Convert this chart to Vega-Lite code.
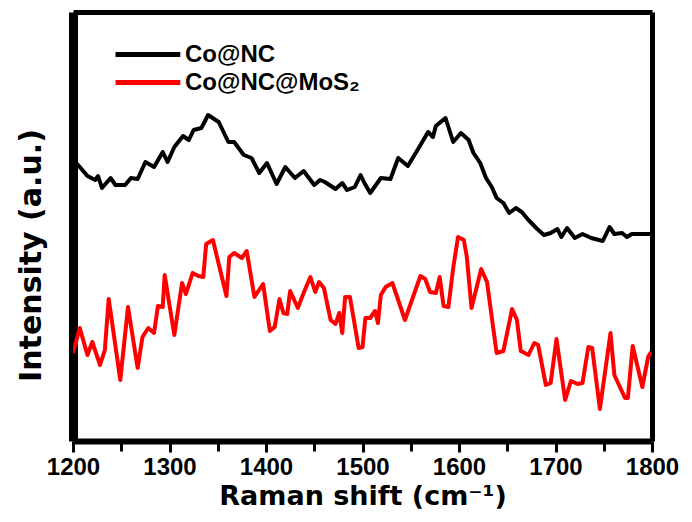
{
  "$schema": "https://vega.github.io/schema/vega-lite/v6.json",
  "width": 579,
  "height": 429,
  "autosize": {"type": "none"},
  "padding": {"left": 73, "top": 12, "right": 40, "bottom": 81},
  "background": "white",
  "config": {"view": {"stroke": null}},
  "data": {
    "values": [
      {"series":"Co@NC","shift":1200,"intensity":290},{"series":"Co@NC","shift":1207,"intensity":283},{"series":"Co@NC","shift":1215,"intensity":274},{"series":"Co@NC","shift":1223,"intensity":270},{"series":"Co@NC","shift":1226,"intensity":274},{"series":"Co@NC","shift":1230,"intensity":262},{"series":"Co@NC","shift":1239,"intensity":272},{"series":"Co@NC","shift":1244,"intensity":265},{"series":"Co@NC","shift":1254,"intensity":265},{"series":"Co@NC","shift":1260,"intensity":272},{"series":"Co@NC","shift":1267,"intensity":271},{"series":"Co@NC","shift":1275,"intensity":288},{"series":"Co@NC","shift":1284,"intensity":283},{"series":"Co@NC","shift":1293,"intensity":298},{"series":"Co@NC","shift":1298,"intensity":288},{"series":"Co@NC","shift":1305,"intensity":303},{"series":"Co@NC","shift":1314,"intensity":314},{"series":"Co@NC","shift":1320,"intensity":310},{"series":"Co@NC","shift":1325,"intensity":320},{"series":"Co@NC","shift":1333,"intensity":322},{"series":"Co@NC","shift":1340,"intensity":335},{"series":"Co@NC","shift":1351,"intensity":328},{"series":"Co@NC","shift":1361,"intensity":308},{"series":"Co@NC","shift":1367,"intensity":308},{"series":"Co@NC","shift":1377,"intensity":295},{"series":"Co@NC","shift":1385,"intensity":292},{"series":"Co@NC","shift":1393,"intensity":277},{"series":"Co@NC","shift":1401,"intensity":287},{"series":"Co@NC","shift":1411,"intensity":266},{"series":"Co@NC","shift":1420,"intensity":283},{"series":"Co@NC","shift":1430,"intensity":272},{"series":"Co@NC","shift":1439,"intensity":279},{"series":"Co@NC","shift":1450,"intensity":265},{"series":"Co@NC","shift":1456,"intensity":270},{"series":"Co@NC","shift":1461,"intensity":268},{"series":"Co@NC","shift":1472,"intensity":261},{"series":"Co@NC","shift":1479,"intensity":267},{"series":"Co@NC","shift":1484,"intensity":260},{"series":"Co@NC","shift":1492,"intensity":263},{"series":"Co@NC","shift":1498,"intensity":275},{"series":"Co@NC","shift":1502,"intensity":267},{"series":"Co@NC","shift":1508,"intensity":257},{"series":"Co@NC","shift":1519,"intensity":272},{"series":"Co@NC","shift":1529,"intensity":271},{"series":"Co@NC","shift":1537,"intensity":292},{"series":"Co@NC","shift":1547,"intensity":284},{"series":"Co@NC","shift":1557,"intensity":300},{"series":"Co@NC","shift":1568,"intensity":318},{"series":"Co@NC","shift":1573,"intensity":313},{"series":"Co@NC","shift":1576,"intensity":324},{"series":"Co@NC","shift":1586,"intensity":332},{"series":"Co@NC","shift":1594,"intensity":308},{"series":"Co@NC","shift":1602,"intensity":317},{"series":"Co@NC","shift":1610,"intensity":310},{"series":"Co@NC","shift":1615,"intensity":297},{"series":"Co@NC","shift":1622,"intensity":287},{"series":"Co@NC","shift":1628,"intensity":272},{"series":"Co@NC","shift":1634,"intensity":263},{"series":"Co@NC","shift":1639,"intensity":252},{"series":"Co@NC","shift":1646,"intensity":247},{"series":"Co@NC","shift":1652,"intensity":237},{"series":"Co@NC","shift":1659,"intensity":242},{"series":"Co@NC","shift":1665,"intensity":238},{"series":"Co@NC","shift":1672,"intensity":230},{"series":"Co@NC","shift":1680,"intensity":222},{"series":"Co@NC","shift":1688,"intensity":215},{"series":"Co@NC","shift":1695,"intensity":217},{"series":"Co@NC","shift":1702,"intensity":221},{"series":"Co@NC","shift":1706,"intensity":213},{"series":"Co@NC","shift":1712,"intensity":222},{"series":"Co@NC","shift":1720,"intensity":212},{"series":"Co@NC","shift":1728,"intensity":216},{"series":"Co@NC","shift":1737,"intensity":212},{"series":"Co@NC","shift":1749,"intensity":209},{"series":"Co@NC","shift":1756,"intensity":223},{"series":"Co@NC","shift":1761,"intensity":216},{"series":"Co@NC","shift":1769,"intensity":217},{"series":"Co@NC","shift":1774,"intensity":213},{"series":"Co@NC","shift":1779,"intensity":216},{"series":"Co@NC","shift":1796,"intensity":216},{"series":"Co@NC","shift":1800,"intensity":216},
      {"series":"Co@NC@MoS₂","shift":1200,"intensity":97},{"series":"Co@NC@MoS₂","shift":1207,"intensity":122},{"series":"Co@NC@MoS₂","shift":1215,"intensity":95},{"series":"Co@NC@MoS₂","shift":1220,"intensity":108},{"series":"Co@NC@MoS₂","shift":1228,"intensity":85},{"series":"Co@NC@MoS₂","shift":1233,"intensity":100},{"series":"Co@NC@MoS₂","shift":1237,"intensity":151},{"series":"Co@NC@MoS₂","shift":1249,"intensity":70},{"series":"Co@NC@MoS₂","shift":1257,"intensity":143},{"series":"Co@NC@MoS₂","shift":1267,"intensity":82},{"series":"Co@NC@MoS₂","shift":1272,"intensity":113},{"series":"Co@NC@MoS₂","shift":1278,"intensity":122},{"series":"Co@NC@MoS₂","shift":1284,"intensity":117},{"series":"Co@NC@MoS₂","shift":1288,"intensity":144},{"series":"Co@NC@MoS₂","shift":1293,"intensity":143},{"series":"Co@NC@MoS₂","shift":1295,"intensity":175},{"series":"Co@NC@MoS₂","shift":1305,"intensity":115},{"series":"Co@NC@MoS₂","shift":1313,"intensity":167},{"series":"Co@NC@MoS₂","shift":1317,"intensity":156},{"series":"Co@NC@MoS₂","shift":1324,"intensity":177},{"series":"Co@NC@MoS₂","shift":1330,"intensity":174},{"series":"Co@NC@MoS₂","shift":1335,"intensity":173},{"series":"Co@NC@MoS₂","shift":1338,"intensity":206},{"series":"Co@NC@MoS₂","shift":1345,"intensity":210},{"series":"Co@NC@MoS₂","shift":1352,"intensity":182},{"series":"Co@NC@MoS₂","shift":1359,"intensity":154},{"series":"Co@NC@MoS₂","shift":1362,"intensity":193},{"series":"Co@NC@MoS₂","shift":1367,"intensity":197},{"series":"Co@NC@MoS₂","shift":1375,"intensity":192},{"series":"Co@NC@MoS₂","shift":1380,"intensity":199},{"series":"Co@NC@MoS₂","shift":1388,"intensity":153},{"series":"Co@NC@MoS₂","shift":1397,"intensity":166},{"series":"Co@NC@MoS₂","shift":1404,"intensity":119},{"series":"Co@NC@MoS₂","shift":1409,"intensity":123},{"series":"Co@NC@MoS₂","shift":1414,"intensity":151},{"series":"Co@NC@MoS₂","shift":1418,"intensity":137},{"series":"Co@NC@MoS₂","shift":1422,"intensity":136},{"series":"Co@NC@MoS₂","shift":1425,"intensity":159},{"series":"Co@NC@MoS₂","shift":1433,"intensity":142},{"series":"Co@NC@MoS₂","shift":1439,"intensity":157},{"series":"Co@NC@MoS₂","shift":1446,"intensity":173},{"series":"Co@NC@MoS₂","shift":1451,"intensity":158},{"series":"Co@NC@MoS₂","shift":1455,"intensity":168},{"series":"Co@NC@MoS₂","shift":1460,"intensity":162},{"series":"Co@NC@MoS₂","shift":1467,"intensity":130},{"series":"Co@NC@MoS₂","shift":1472,"intensity":126},{"series":"Co@NC@MoS₂","shift":1476,"intensity":137},{"series":"Co@NC@MoS₂","shift":1479,"intensity":117},{"series":"Co@NC@MoS₂","shift":1482,"intensity":153},{"series":"Co@NC@MoS₂","shift":1487,"intensity":153},{"series":"Co@NC@MoS₂","shift":1496,"intensity":102},{"series":"Co@NC@MoS₂","shift":1500,"intensity":103},{"series":"Co@NC@MoS₂","shift":1503,"intensity":132},{"series":"Co@NC@MoS₂","shift":1508,"intensity":132},{"series":"Co@NC@MoS₂","shift":1513,"intensity":139},{"series":"Co@NC@MoS₂","shift":1516,"intensity":127},{"series":"Co@NC@MoS₂","shift":1519,"intensity":155},{"series":"Co@NC@MoS₂","shift":1524,"intensity":163},{"series":"Co@NC@MoS₂","shift":1531,"intensity":167},{"series":"Co@NC@MoS₂","shift":1544,"intensity":130},{"series":"Co@NC@MoS₂","shift":1560,"intensity":174},{"series":"Co@NC@MoS₂","shift":1565,"intensity":171},{"series":"Co@NC@MoS₂","shift":1570,"intensity":158},{"series":"Co@NC@MoS₂","shift":1576,"intensity":157},{"series":"Co@NC@MoS₂","shift":1580,"intensity":173},{"series":"Co@NC@MoS₂","shift":1584,"intensity":144},{"series":"Co@NC@MoS₂","shift":1589,"intensity":143},{"series":"Co@NC@MoS₂","shift":1594,"intensity":182},{"series":"Co@NC@MoS₂","shift":1599,"intensity":213},{"series":"Co@NC@MoS₂","shift":1605,"intensity":210},{"series":"Co@NC@MoS₂","shift":1608,"intensity":194},{"series":"Co@NC@MoS₂","shift":1613,"intensity":142},{"series":"Co@NC@MoS₂","shift":1623,"intensity":181},{"series":"Co@NC@MoS₂","shift":1629,"intensity":168},{"series":"Co@NC@MoS₂","shift":1639,"intensity":97},{"series":"Co@NC@MoS₂","shift":1646,"intensity":99},{"series":"Co@NC@MoS₂","shift":1655,"intensity":141},{"series":"Co@NC@MoS₂","shift":1660,"intensity":130},{"series":"Co@NC@MoS₂","shift":1664,"intensity":99},{"series":"Co@NC@MoS₂","shift":1672,"intensity":95},{"series":"Co@NC@MoS₂","shift":1678,"intensity":107},{"series":"Co@NC@MoS₂","shift":1682,"intensity":105},{"series":"Co@NC@MoS₂","shift":1690,"intensity":65},{"series":"Co@NC@MoS₂","shift":1695,"intensity":67},{"series":"Co@NC@MoS₂","shift":1701,"intensity":111},{"series":"Co@NC@MoS₂","shift":1710,"intensity":50},{"series":"Co@NC@MoS₂","shift":1716,"intensity":69},{"series":"Co@NC@MoS₂","shift":1723,"intensity":66},{"series":"Co@NC@MoS₂","shift":1728,"intensity":67},{"series":"Co@NC@MoS₂","shift":1734,"intensity":103},{"series":"Co@NC@MoS₂","shift":1738,"intensity":102},{"series":"Co@NC@MoS₂","shift":1746,"intensity":41},{"series":"Co@NC@MoS₂","shift":1757,"intensity":117},{"series":"Co@NC@MoS₂","shift":1761,"intensity":75},{"series":"Co@NC@MoS₂","shift":1772,"intensity":52},{"series":"Co@NC@MoS₂","shift":1775,"intensity":52},{"series":"Co@NC@MoS₂","shift":1780,"intensity":104},{"series":"Co@NC@MoS₂","shift":1790,"intensity":63},{"series":"Co@NC@MoS₂","shift":1796,"intensity":93},{"series":"Co@NC@MoS₂","shift":1799,"intensity":98}
    ]
  },
  "layer": [
    {
      "mark": {"type": "line", "strokeWidth": 4, "strokeJoin": "round", "clip": true},
      "encoding": {
        "x": {
          "field": "shift", "type": "quantitative",
          "scale": {"domain": [1200, 1800], "nice": false, "zero": false},
          "axis": {
            "orient": "bottom",
            "title": "Raman shift (cm⁻¹)",
            "values": [1200,1250,1300,1350,1400,1450,1500,1550,1600,1650,1700,1750,1800],
            "labelExpr": "datum.value % 100 == 0 ? datum.label : ''",
            "format": "d",
            "domain": true,
            "domainColor": "black",
            "domainWidth": 6,
            "grid": false,
            "ticks": true,
            "tickColor": "black",
            "tickWidth": 3,
            "tickSize": {"condition": {"test": "datum.value % 100 == 0", "value": 11}, "value": 10},
            "labelFont": "Liberation Sans",
            "labelFontWeight": "bold",
            "labelFontSize": 24,
            "labelColor": "black",
            "labelPadding": 3,
            "labelFlush": false,
            "labelOverlap": false,
            "titleFont": "DejaVu Sans",
            "titleFontWeight": "bold",
            "titleFontSize": 27,
            "titleColor": "black",
            "titlePadding": 4
          }
        },
        "y": {
          "field": "intensity", "type": "quantitative",
          "scale": {"domain": [9, 438], "nice": false, "zero": false},
          "axis": {
            "orient": "left",
            "title": "Intensity (a.u.)",
            "labels": false, "ticks": false, "grid": false,
            "domain": true, "domainColor": "black", "domainWidth": 9,
            "titleFont": "DejaVu Sans",
            "titleFontWeight": "bold",
            "titleFontSize": 30,
            "titleColor": "black",
            "titlePadding": 27,
            "titleY": 243
          }
        },
        "color": {
          "field": "series", "type": "nominal",
          "scale": {"domain": ["Co@NC", "Co@NC@MoS₂"], "range": ["black", "#ff0000"]},
          "legend": {
            "title": null,
            "orient": "none",
            "legendX": 40,
            "legendY": 28,
            "padding": 0,
            "symbolType": "M-1,0H4.4",
            "symbolSize": 576,
            "symbolStrokeWidth": 5,
            "labelFont": "Liberation Sans",
            "labelFontWeight": "bold",
            "labelFontSize": 24,
            "labelColor": "black",
            "labelOffset": 43,
            "labelLimit": 400,
            "rowPadding": 1
          }
        }
      }
    },
    {
      "mark": {"type": "line", "opacity": 0},
      "encoding": {
        "x": {
          "field": "shift", "type": "quantitative",
          "axis": {"orient": "top", "title": null, "labels": false, "ticks": false, "grid": false,
                   "domain": true, "domainColor": "black", "domainWidth": 5}
        },
        "y": {
          "field": "intensity", "type": "quantitative",
          "axis": {"orient": "right", "title": null, "labels": false, "ticks": false, "grid": false,
                   "domain": true, "domainColor": "black", "domainWidth": 5}
        }
      }
    }
  ],
  "resolve": {"axis": {"x": "independent", "y": "independent"}}
}
